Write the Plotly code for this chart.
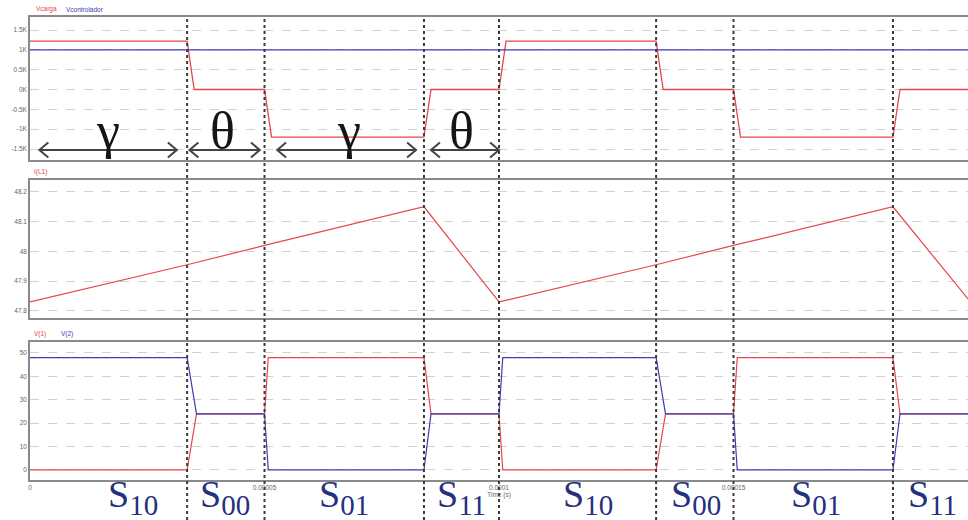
import plotly.graph_objects as go
from plotly.subplots import make_subplots

# time is handled in microseconds; tick labels show seconds

# switching instants of the bridge (µs) and the state names of each interval
t_switch = [33.5, 50, 84, 100, 133.5, 150, 184]
t_end = 200
state_names = ["10", "00", "01", "11", "10", "00", "01", "11"]
state_label_t = [22, 41.5, 67, 92, 119, 142, 167.5, 192.5]

# load voltage and control reference (V)
t_vload = [0, 33.5, 35, 50, 51.5, 84, 85.5, 100, 101.5, 133.5, 135, 150, 151.5, 184, 185.5, 200]
v_load = [1220, 1220, 0, 0, -1200, -1200, 0, 0, 1220, 1220, 0, 0, -1200, -1200, 0, 0]
t_vctrl = [0, 200]
v_ctrl = [1000, 1000]

# inductor current (A)
t_il = [0, 33.5, 50, 84, 100, 133.5, 150, 184, 200]
i_l = [47.83, 47.955, 48.02, 48.15, 47.83, 47.955, 48.02, 48.15, 47.84]

# leg node voltages (V)
t_node = [0, 33.5, 35.5, 50, 50.8, 84, 85.5, 100, 100.8, 133.5, 135.5, 150, 150.8, 184, 185.5, 200]
v_node1 = [0, 0, 24, 24, 48, 48, 24, 24, 0, 0, 24, 24, 48, 48, 24, 24]
v_node2 = [48, 48, 24, 24, 0, 0, 24, 24, 48, 48, 24, 24, 0, 0, 24, 24]

# interval markers drawn in the top panel
span_bounds = [(0, 33.5, "γ"), (33.5, 50, "θ"), (50, 84, "γ"), (84, 100, "θ")]
span_text_t = [16.7, 41, 68, 92]

# axis ticks
x_ticks = [0, 50, 100, 150, 200]
x_ticktext = ["0", "0.00005", "0.0001", "0.00015", "0.0002"]
y1_ticks = [1500, 1000, 500, 0, -500, -1000, -1500]
y1_ticktext = ["1.5K", "1K", "0.5K", "0K", "-0.5K", "-1K", "-1.5K"]
y2_ticks = [47.8, 47.9, 48.0, 48.1, 48.2]
y2_ticktext = ["47.8", "47.9", "48", "48.1", "48.2"]
y3_ticks = [0, 10, 20, 30, 40, 50]

RED = "rgb(230,70,75)"
BLUE = "#3c3cb4"
NAVY = "#25307e"

fig = make_subplots(rows=3, cols=1, shared_xaxes=True)

fig.add_trace(go.Scatter(x=t_vload, y=v_load, mode="lines",
                         line=dict(color=RED, width=1.3, simplify=False)), row=1, col=1)
fig.add_trace(go.Scatter(x=t_vctrl, y=v_ctrl, mode="lines",
                         line=dict(color=BLUE, width=1.2)), row=1, col=1)
fig.add_trace(go.Scatter(x=t_il, y=i_l, mode="lines",
                         line=dict(color=RED, width=1.2)), row=2, col=1)
fig.add_trace(go.Scatter(x=t_node, y=v_node1, mode="lines",
                         line=dict(color=RED, width=1.2, simplify=False)), row=3, col=1)
fig.add_trace(go.Scatter(x=t_node, y=v_node2, mode="lines",
                         line=dict(color=BLUE, width=1.2, simplify=False)), row=3, col=1)

x_dom = [0.029, 1.0]
y_doms = [[0.6923, 0.9673], [0.3885, 0.6538], [0.0769, 0.3423]]
y_ranges = [[-1777, 1828], [47.776, 48.24], [-4.3, 54.7]]
y_ticksets = [(y1_ticks, y1_ticktext), (y2_ticks, y2_ticktext),
              (y3_ticks, [str(v) for v in y3_ticks])]

tick_font = dict(family="Liberation Sans", size=6.5, color="#666")
grid_style = dict(showgrid=True, gridcolor="#d2d2d2", griddash="dash", gridwidth=1)

for k in range(3):
    xa = "xaxis" if k == 0 else f"xaxis{k + 1}"
    ya = "yaxis" if k == 0 else f"yaxis{k + 1}"
    fig.layout[xa].update(
        domain=x_dom, range=[0, t_end], showgrid=False, zeroline=False,
        showline=True, linecolor="#8a8a8a", linewidth=1.5, mirror=True,
        tickvals=x_ticks, ticktext=x_ticktext, ticks="",
        showticklabels=(k == 2), tickfont=tick_font,
    )
    tv, tt = y_ticksets[k]
    fig.layout[ya].update(
        domain=y_doms[k], range=y_ranges[k], zeroline=False,
        showline=True, linecolor="#8a8a8a", linewidth=1.5, mirror=False,
        tickvals=tv, ticktext=tt, ticks="", tickfont=tick_font, **grid_style,
    )

fig.layout.xaxis3.update(title=dict(text="Time (s)",
                                    font=dict(family="Liberation Sans", size=6.5, color="#666"),
                                    standoff=0))

shapes = []
# dotted switching lines across all panels
for ts in t_switch:
    shapes.append(dict(type="line", xref="x", yref="paper", x0=ts, x1=ts,
                       y0=0, y1=0.968, line=dict(color="#3a3a3a", width=2, dash="dot")))

# double-headed span arrows
arrow_y = -1525
head_dx = 1.9
head_dy = 190
inset = [(2.0, 2.2), (0.5, 1.0), (2.7, 1.7), (1.5, 0.0)]
annotations = []
for (a, b, sym), (ia, ib), tx in zip(span_bounds, inset, span_text_t):
    x0, x1 = a + ia, b - ib
    shapes.append(dict(type="line", xref="x", yref="y", x0=x0, x1=x1,
                       y0=arrow_y, y1=arrow_y, line=dict(color="#444", width=2)))
    for xe, sgn in ((x0, 1), (x1, -1)):
        path = (f"M {xe + sgn * head_dx:.3f},{arrow_y + head_dy} "
                f"L {xe:.3f},{arrow_y} L {xe + sgn * head_dx:.3f},{arrow_y - head_dy}")
        shapes.append(dict(type="path", xref="x", yref="y", path=path,
                           line=dict(color="#444", width=2)))
    annotations.append(dict(x=tx, xref="x", y=1 - 130 / 520, yref="paper",
                            text=sym, showarrow=False, xanchor="center", yanchor="middle",
                            font=dict(family="Liberation Serif", size=52, color="#151515")))

# switch-state labels under the time axis
for name, tx in zip(state_names, state_label_t):
    lab = f"S<sub><span style='font-size:29px'>{name}</span></sub>"
    annotations.append(dict(x=tx, xref="x", y=-2 / 520, yref="paper",
                            text=lab, showarrow=False, xanchor="center", yanchor="bottom",
                            borderpad=0,
                            font=dict(family="Liberation Serif", size=38, color=NAVY)))

# trace name captions above each panel
captions = [
    ("Vcarga", RED, 32, 9), ("Vcontrolador", BLUE, 62, 9),
    ("I(L1)", RED, 30, 172),
    ("V(1)", RED, 30, 334), ("V(2)", BLUE, 57, 334),
]
for txt, col, px, py in captions:
    annotations.append(dict(x=px / 968, xref="paper", y=1 - py / 520, yref="paper",
                            text=txt, showarrow=False, xanchor="left", yanchor="middle",
                            font=dict(family="Liberation Sans", size=6.5, color=col)))

fig.update_layout(
    width=968, height=520, margin=dict(l=0, r=0, t=0, b=0),
    paper_bgcolor="white", plot_bgcolor="white", showlegend=False,
    shapes=shapes, annotations=annotations,
)

fig.write_html("out.html")
